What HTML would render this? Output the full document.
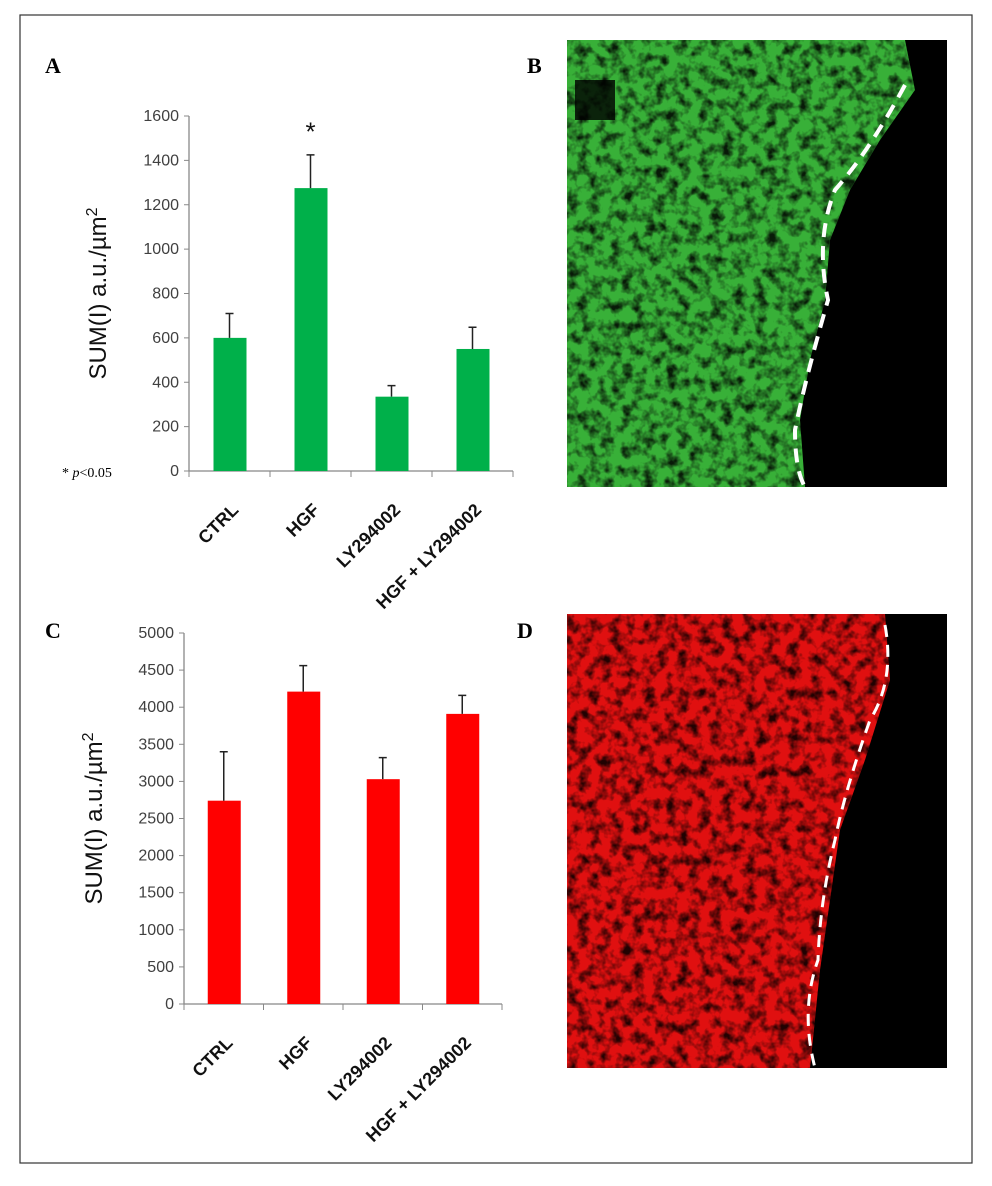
<!DOCTYPE html>
<html><head><meta charset="utf-8"><style>
body{margin:0;background:#fff;font-family:"Liberation Sans",sans-serif}
svg text{font-family:"Liberation Sans",sans-serif}
</style></head><body>
<svg width="992" height="1181" viewBox="0 0 992 1181">
<defs>
<filter id="tx" x="0" y="0" width="1" height="1"><feTurbulence type="fractalNoise" baseFrequency="0.09" numOctaves="3" seed="3"/><feColorMatrix type="matrix" values="0 0 0 0 0  0 0 0 0 0  0 0 0 0 0  0 0 0 -2.6 1.5"/><feComposite in2="SourceGraphic" operator="in"/></filter>
<clipPath id="cb"><rect x="567" y="40" width="380" height="447"/></clipPath>
<clipPath id="cd"><rect x="567" y="614" width="380" height="454"/></clipPath>
</defs>
<rect x="20" y="15" width="952" height="1148" fill="#fff" stroke="#333" stroke-width="1.2"/>
<text x="45" y="73" font-weight="bold" font-size="22" style="font-family:'Liberation Serif',serif">A</text>
<text x="527" y="73" font-weight="bold" font-size="22" style="font-family:'Liberation Serif',serif">B</text>
<text x="45" y="638" font-weight="bold" font-size="22" style="font-family:'Liberation Serif',serif">C</text>
<text x="517" y="638" font-weight="bold" font-size="22" style="font-family:'Liberation Serif',serif">D</text>
<text x="62" y="477" font-size="14" style="font-family:'Liberation Serif',serif">* <tspan font-style="italic">p</tspan>&lt;0.05</text>

<g clip-path="url(#cb)">
<rect x="567" y="40" width="380" height="447" fill="#000"/>
<path d="M567 40 L905 40 L915 90 L880 140 L850 190 L830 240 L825 300 L810 360 L800 420 L805 487 L567 487 Z" fill="#38b038"/>
<path d="M567 40 L905 40 L915 90 L880 140 L850 190 L830 240 L825 300 L810 360 L800 420 L805 487 L567 487 Z" fill="#000" filter="url(#tx)" opacity="0.85"/>
<rect x="575" y="80" width="40" height="40" fill="#000" opacity="0.8"/>
<path d="M905 85 Q870 150 835 190 Q815 240 828 300 Q805 380 795 430 Q795 470 805 487" fill="none" stroke="#fff" stroke-width="4" stroke-dasharray="14 9"/>
</g>
<g clip-path="url(#cd)">
<rect x="567" y="614" width="380" height="454" fill="#000"/>
<path d="M567 614 L885 614 L890 680 L865 760 L840 830 L830 900 L820 970 L810 1068 L567 1068 Z" fill="#e01010"/>
<path d="M567 614 L885 614 L890 680 L865 760 L840 830 L830 900 L820 970 L810 1068 L567 1068 Z" fill="#000" filter="url(#tx)" opacity="0.85"/>
<path d="M885 625 Q895 680 870 720 Q845 790 835 840 Q820 900 818 960 Q800 1010 815 1068" fill="none" stroke="#fff" stroke-width="3" stroke-dasharray="12 8"/>
</g>

<g id="chartA"></g>
<g id="chartC"></g>
</svg>
<script>
const categories=["CTRL","HGF","LY294002","HGF + LY294002"];
const valuesA=[600,1275,335,550];
const errTopA=[710,1425,385,648];
const ticksA=[0,200,400,600,800,1000,1200,1400,1600];
const valuesC=[2740,4210,3030,3910];
const errTopC=[3400,4560,3320,4160];
const ticksC=[0,500,1000,1500,2000,2500,3000,3500,4000,4500,5000];
const NS="http://www.w3.org/2000/svg";
function mk(p,t,a){const e=document.createElementNS(NS,t);for(const k in a)e.setAttribute(k,a[k]);p.appendChild(e);return e;}
function chart(g,cfg){
  const y=v=>cfg.y0-(v/cfg.max)*(cfg.y0-cfg.yTop);
  const cw=(cfg.x1-cfg.x0)/categories.length;
  const ax=mk(g,'path',{d:`M${cfg.x0} ${cfg.yTop} V${cfg.y0} H${cfg.x1}`,stroke:'#888',fill:'none','stroke-width':1.3});
  
  
  cfg.ticks.forEach(t=>{
    const l=mk(g,'line',{x1:cfg.x0-5,x2:cfg.x0,y1:y(t),y2:y(t),stroke:'#888'});
    
    
    const tx=mk(g,'text',{x:cfg.x0-10,y:y(t)+5,'text-anchor':'end','font-size':16,fill:'#404040'});
    tx.textContent=t;
    
    
  });
  for(let i=0;i<=categories.length;i++){
    const l=mk(g,'line',{x1:cfg.x0+i*cw,x2:cfg.x0+i*cw,y1:cfg.y0,y2:cfg.y0+6,stroke:'#888'});
    
    
  }
  categories.forEach((c,i)=>{
    const cx=cfg.x0+(i+0.5)*cw;
    const b=mk(g,'rect',{x:cx-16,y:y(cfg.vals[i]),width:33,height:cfg.y0-y(cfg.vals[i]),fill:cfg.color});
    
    
    const e=mk(g,'path',{d:`M${cx} ${y(cfg.vals[i])} V${y(cfg.err[i])} M${cx-4} ${y(cfg.err[i])} H${cx+4}`,stroke:'#222','stroke-width':1.5,fill:'none'});
    
    
    const lx=cx+10, ly=cfg.y0+40;
    const t=mk(g,'text',{x:lx,y:ly,'text-anchor':'end','font-size':18,'font-weight':'bold',fill:'#111',transform:`rotate(-45 ${lx} ${ly})`});
    t.textContent=c;
    
    
  });
  const yt=mk(g,'text',{x:0,y:0,'font-size':24,fill:'#111','text-anchor':'middle',transform:`translate(${cfg.titleX} ${(cfg.y0+cfg.yTop)/2}) rotate(-90)`});
  yt.innerHTML='SUM(I) a.u./µm<tspan dy="-9" font-size="16">2</tspan>';
  
  
  if(cfg.star){
    const s=mk(g,'text',{x:cfg.x0+1.5*cw,y:y(cfg.star.at),'text-anchor':'middle','font-size':26,fill:'#111'});
    s.textContent='*';
    
    
  }
}
chart(document.getElementById('chartA'),{x0:189,x1:513,y0:471,yTop:116,max:1600,vals:valuesA,err:errTopA,ticks:ticksA,color:'#00b04a',titleX:106,star:{at:1490}});
chart(document.getElementById('chartC'),{x0:184,x1:502,y0:1004,yTop:633,max:5000,vals:valuesC,err:errTopC,ticks:ticksC,color:'#ff0000',titleX:102});
</script>
</body></html>
